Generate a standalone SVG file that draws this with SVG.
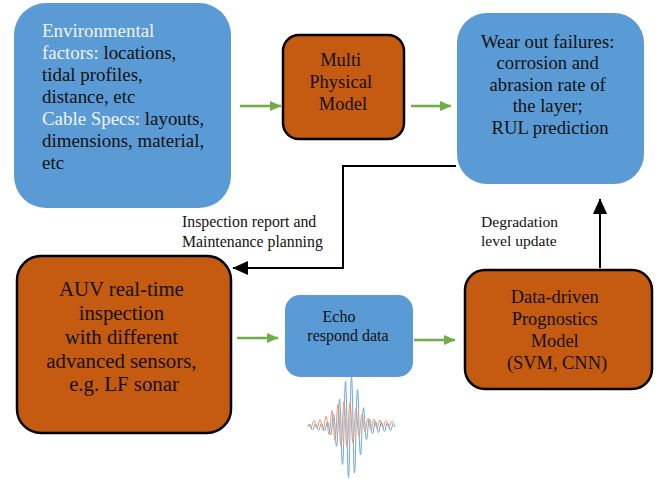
<svg xmlns="http://www.w3.org/2000/svg" width="666" height="479" viewBox="0 0 666 479">
<style>
.blue{fill:#5B9BD5;}
.org{fill:#C55A11;stroke:#000;stroke-width:2.5;}
.t{font-family:"Liberation Serif","Times New Roman",serif;fill:#111;}
.w{fill:#F2F2F2;}
.g{stroke:#70AD47;stroke-width:2.5;fill:none;marker-end:url(#ga);}
.k{stroke:#000;stroke-width:2;fill:none;marker-end:url(#ka);}
</style>
<defs>
<marker id="ga" markerWidth="5" markerHeight="5" refX="4.6" refY="2.5" orient="auto" markerUnits="strokeWidth">
<path d="M0,0.4 L4.8,2.5 L0,4.6 Z" fill="#70AD47"/>
</marker>
<marker id="ka" markerWidth="8" markerHeight="8" refX="7.5" refY="3.75" orient="auto" markerUnits="strokeWidth">
<path d="M0,0.2 L7.8,3.75 L0,7.3 Z" fill="#000"/>
</marker>
</defs>
<rect width="666" height="479" fill="#fff"/>
<g id="connectors">
<line class="g" x1="240" y1="106" x2="281" y2="106"/>
<line class="g" x1="411" y1="106" x2="451" y2="106"/>
<line class="g" x1="237" y1="338" x2="278" y2="338"/>
<line class="g" x1="414" y1="340" x2="455" y2="340"/>
<polyline class="k" points="456,166 343,166 343,268 233,268"/>
<line class="k" x1="600" y1="268" x2="600" y2="199"/>
<text class="t" font-size="15.8" x="182" y="227">Inspection report and</text>
<text class="t" font-size="15.8" x="182" y="247">Maintenance planning</text>
<text class="t" font-size="15.6" x="481" y="227">Degradation</text>
<text class="t" font-size="15.6" x="481" y="246">level update</text>
</g>
<g id="env">
<rect class="blue" x="14" y="3" width="217" height="205" rx="32"/>
<text class="t" font-size="18.9" x="42">
<tspan x="42" y="37" class="w">Environmental</tspan>
<tspan x="42" y="59"><tspan class="w">factors:</tspan> locations,</tspan>
<tspan x="42" y="81">tidal profiles,</tspan>
<tspan x="42" y="103">distance, etc</tspan>
<tspan x="42" y="125"><tspan class="w">Cable Specs:</tspan> layouts,</tspan>
<tspan x="42" y="147">dimensions, material,</tspan>
<tspan x="42" y="169">etc</tspan>
</text>
</g>
<g id="multi">
<rect class="org" x="283" y="35" width="121" height="104" rx="16"/>
<text class="t" font-size="18.5" text-anchor="middle">
<tspan x="343" y="66">Multi</tspan>
<tspan x="343" y="88">Physical</tspan>
<tspan x="343" y="110">Model</tspan>
</text>
</g>
<g id="wear">
<rect class="blue" x="457" y="13" width="187" height="171" rx="30"/>
<text class="t" font-size="18.7" text-anchor="middle">
<tspan x="550" y="48">Wear out failures:</tspan>
<tspan x="550" y="69">corrosion and</tspan>
<tspan x="550" y="91">abrasion rate of</tspan>
<tspan x="550" y="112">the layer;</tspan>
<tspan x="550" y="134">RUL prediction</tspan>
</text>
</g>
<g id="auv">
<rect class="org" x="17" y="256" width="214" height="177" rx="24"/>
<text class="t" font-size="20.8" text-anchor="middle">
<tspan x="124" y="296">AUV real-time</tspan>
<tspan x="124" y="320">inspection</tspan>
<tspan x="124" y="344">with different</tspan>
<tspan x="124" y="368">advanced sensors,</tspan>
<tspan x="124" y="391">e.g. LF sonar</tspan>
</text>
</g>
<g id="echo">
<rect class="blue" x="285" y="295" width="128" height="82" rx="15"/>
<text class="t" font-size="16" text-anchor="middle">
<tspan x="341" y="322">Echo</tspan>
<tspan x="348" y="341">respond data</tspan>
</text>
</g>
<g id="datadriven">
<rect class="org" x="465" y="270" width="187" height="119" rx="20"/>
<text class="t" font-size="18.4" text-anchor="middle">
<tspan x="557" y="303">Data-driven</tspan>
<tspan x="557" y="325">Prognostics</tspan>
<tspan x="557" y="347">Model</tspan>
<tspan x="557" y="369">(SVM, CNN)</tspan>
</text>
</g>
<g id="wave" fill="none" stroke-width="1">
<path stroke="#6FA8DC" d="M308,427 Q309.5,421 311,427 Q312.5,433 314,427 Q315.5,421 317,427 Q318.5,433.2 320,427 Q321.5,420.2 323,427 Q324.5,435 326,427 Q327.5,416.2 329,427 Q330.5,443.2 332,427 Q333.5,401.8 335,427 Q336.5,465.6 338,427 Q339.5,371 341,427 Q342.5,501.8 344,427 Q345.5,335.8 347,427 Q348.5,527.8 350,427 Q351.5,326.2 353,427 Q354.5,518.2 356,427 Q357.5,352.2 359,427 Q360.5,483 362,427 Q363.5,388.4 365,427 Q366.5,452.2 368,427 Q369.5,410.8 371,427 Q372.5,440 374,427 Q375.5,415 377,427 Q378.5,438 380,427 Q381.5,417 383,427 Q384.5,436 386,427 Q387.5,419 389,427 Q390.5,434 392,427 Q393.5,421 395,427"/>
<path stroke="#E39B72" d="M309.5,424 Q311,430.4 312.5,424 Q314,417 315.5,424 Q317,431.8 318.5,424 Q320,414.6 321.5,424 Q323,436 324.5,424 Q326,408.2 327.5,424 Q329,444.8 330.5,424 Q332,397.4 333.5,424 Q335,457 336.5,424 Q338,385 339.5,424 Q341,467.6 342.5,424 Q344,378.2 345.5,424 Q347,469.4 348.5,424 Q350,381.8 351.5,424 Q353,461.2 354.5,424 Q356,393 357.5,424 Q359,448.6 360.5,424 Q362,405 363.5,424 Q365,438.4 366.5,424 Q368,413 369.5,424 Q371,436 372.5,424 Q374,414 375.5,424 Q377,433 378.5,424 Q380,416 381.5,424 Q383,431 384.5,424 Q386,417 387.5,424 Q389,430 390.5,424 Q392,418 393.5,424"/>
</g>
</svg>
